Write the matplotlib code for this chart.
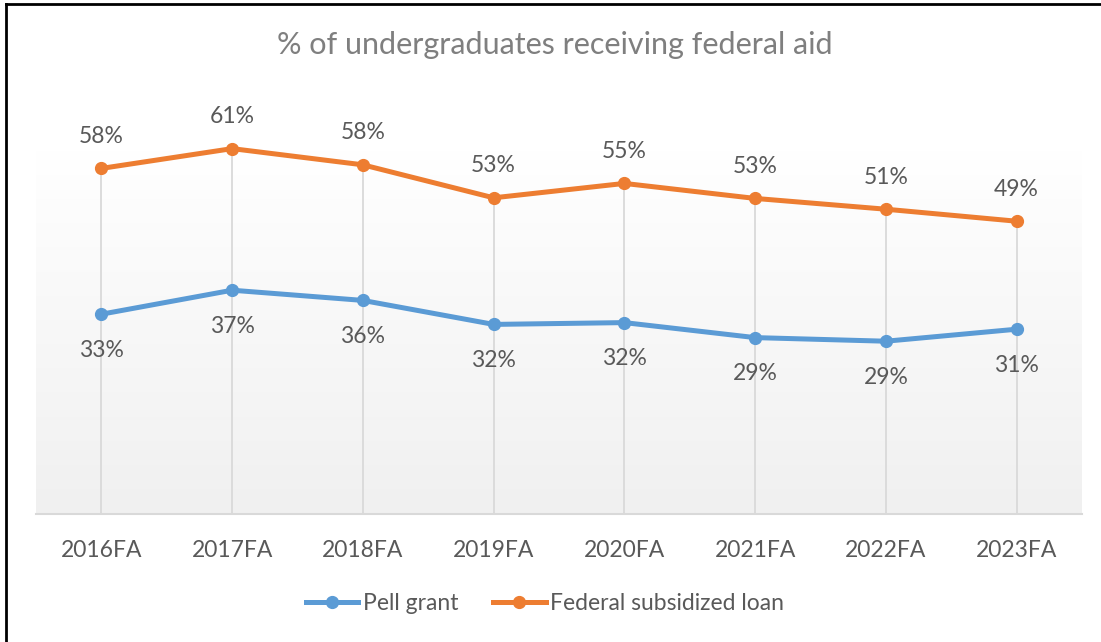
import matplotlib.pyplot as plt
import numpy as np
from matplotlib.lines import Line2D

plt.rcParams["font.family"] = ["Lato", "DejaVu Sans"]

terms = ["2016FA", "2017FA", "2018FA", "2019FA", "2020FA", "2021FA", "2022FA", "2023FA"]
pell_grant = [0.333, 0.373, 0.356, 0.316, 0.319, 0.294, 0.288, 0.308]
subsidized_loan = [0.576, 0.609, 0.582, 0.527, 0.551, 0.526, 0.508, 0.488]

BLUE = "#5B9BD5"
ORANGE = "#ED7D31"
TEXT = "#595959"
GRID = "#D9D9D9"
FS = 16.5

W, H = 1101, 642
fig = plt.figure(figsize=(W / 100, H / 100), dpi=100)
ax = fig.add_axes([36 / W, (H - 514) / H, 1046 / W, 364 / H])

x = np.arange(len(terms))
ax.set_xlim(-0.5, len(terms) - 0.5)
ax.set_ylim(0, 0.6067)

# plot area gradient, white at the top fading to light grey
grad = np.linspace(1.0, 0.0, 256).reshape(-1, 1)
ax.imshow(grad, extent=[-0.5, len(terms) - 0.5, 0, 0.6067], aspect="auto",
          cmap=plt.matplotlib.colors.LinearSegmentedColormap.from_list(
              "bg", ["#F0F0F0", "#FFFFFF"]), vmin=0, vmax=1, zorder=0)

# drop lines from the upper series down to the axis
ax.vlines(x, 0, subsidized_loan, color=GRID, lw=1.3, zorder=1)

for s in ["top", "right", "left"]:
    ax.spines[s].set_visible(False)
ax.spines["bottom"].set_color(GRID)
ax.spines["bottom"].set_linewidth(1.5)

ax.plot(x, pell_grant, color=BLUE, lw=3.6, marker="o", ms=8.5,
        solid_capstyle="round", clip_on=False, zorder=3)
ax.plot(x, subsidized_loan, color=ORANGE, lw=3.6, marker="o", ms=8.5,
        solid_capstyle="round", clip_on=False, zorder=3)

for xi, v in zip(x, pell_grant):
    ax.annotate(f"{v:.0%}", (xi, v), xytext=(0, -36), textcoords="offset pixels",
                ha="center", va="center", fontsize=FS, color=TEXT)
for xi, v in zip(x, subsidized_loan):
    ax.annotate(f"{v:.0%}", (xi, v), xytext=(0, 32), textcoords="offset pixels",
                ha="center", va="center", fontsize=FS, color=TEXT,
                annotation_clip=False)

ax.set_yticks([])
ax.set_xticks(x)
ax.set_xticklabels(terms, fontsize=FS, color=TEXT)
ax.tick_params(axis="x", length=0, pad=19)

fig.text(555 / W, 1 - 45 / H, "% of undergraduates receiving federal aid",
         ha="center", va="center", fontsize=22, color="#7F7F7F")

handles = [
    Line2D([], [], color=BLUE, lw=3.6, marker="o", ms=8.5),
    Line2D([], [], color=ORANGE, lw=3.6, marker="o", ms=8.5),
]
fig.legend(handles, ["Pell grant", "Federal subsidized loan"], loc="center",
           bbox_to_anchor=(545 / W, 1 - 604 / H), ncol=2, frameon=False,
           fontsize=FS, labelcolor=TEXT, handlelength=2.3, handletextpad=0.2,
           columnspacing=1.5)

# chart border, only the left and top edges fall inside the image
fig.add_artist(Line2D([6 / W, 6 / W], [0, 1 - 4 / H], color="black", lw=2,
                      transform=fig.transFigure))
fig.add_artist(Line2D([6 / W, 1], [1 - 4 / H, 1 - 4 / H], color="black", lw=2,
                      transform=fig.transFigure))

fig.savefig("out.png", dpi=100, facecolor="white")
